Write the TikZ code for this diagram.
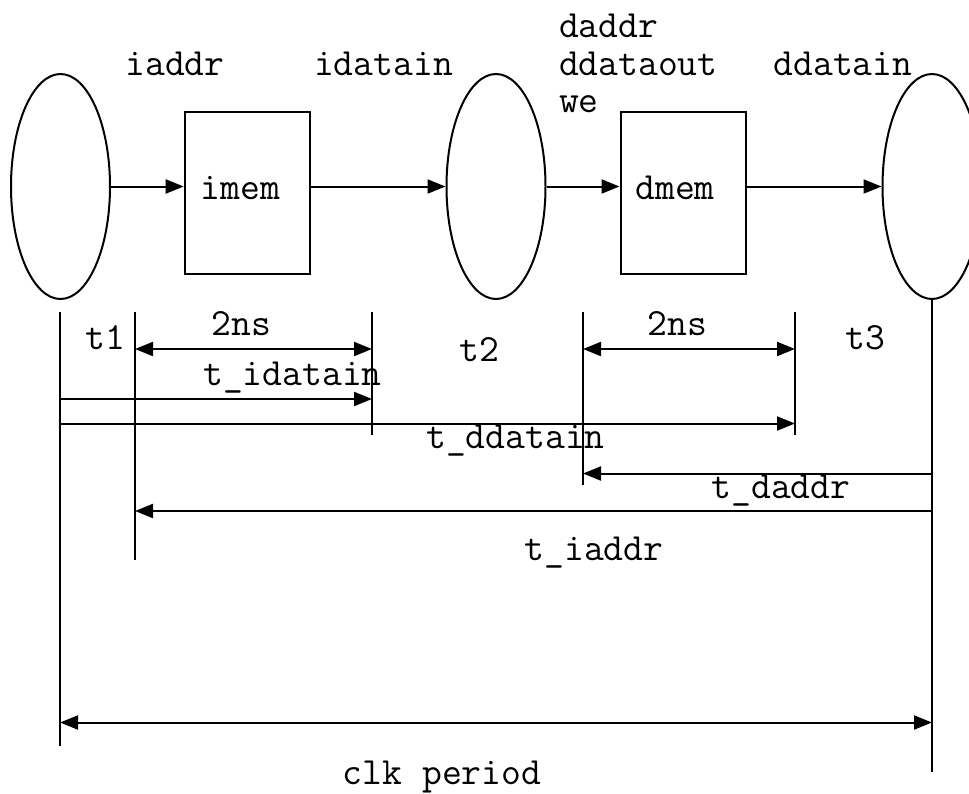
\documentclass[tikz,border=0pt]{standalone}
\usepackage{fontspec}
\setmainfont{Latin Modern Mono}
\usetikzlibrary{arrows.meta,shapes.geometric}
\begin{document}
\begin{tikzpicture}[x=1pt,y=-1pt,
  line width=2pt,
  every node/.style={font=\fontsize{38.5}{37.5}\selectfont, inner sep=0pt},
  reg/.style={draw, ellipse, minimum width=99pt, minimum height=225pt},
  mem/.style={draw, rectangle, minimum width=125pt, minimum height=162pt},
  lbl/.style={anchor=base},
  fwd/.style={-{Triangle[length=18pt,width=14pt]}},
  dbl/.style={{Triangle[length=18pt,width=14pt]}-{Triangle[length=18pt,width=14pt]}}
]
\useasboundingbox (0,0) rectangle (969,793);

% pipeline registers and memories
\node[reg] (r1) at (60.5,186.5) {};
\node[reg] (r2) at (496,186.5) {};
\node[reg] (r3) at (932,186.5) {};
\node[mem] (imem) at (247.2,193) {};
\node[mem] (dmem) at (683,193) {};
\node[lbl] (imemtxt) at (240.5,199) {imem};
\node[lbl] (dmemtxt) at (675,199) {dmem};

% data path
\draw[fwd] (r1.east) -- (r1.east -| imem.west);
\draw[fwd] (r1.east -| imem.east) -- (r2.west);
\draw[fwd] (r2.east) -- (r2.east -| dmem.west);
\draw[fwd] (r2.east -| dmem.east) -- (r3.west);

% signal names
\node[lbl] (iaddr) at (175,75) {iaddr};
\node[lbl] (idatain) at (383.5,75) {idatain};
\node[anchor=base west] (daddr) at (558,37) {daddr};
\node[anchor=base west] (ddataout) at (558,75) {ddataout};
\node[anchor=base west] (we) at (558,112) {we};
\node[lbl] (ddatain) at (843,75) {ddatain};

% timing reference lines
\coordinate (v0t) at (60,312);   \coordinate (v0b) at (60,746);
\coordinate (v1t) at (135,312);  \coordinate (v1b) at (135,560);
\coordinate (v2t) at (372,312);  \coordinate (v2b) at (372,435);
\coordinate (v3t) at (583,312);  \coordinate (v3b) at (583,485);
\coordinate (v4t) at (795,312);  \coordinate (v4b) at (795,435);
\coordinate (v5b) at (932,772);
\draw (v0t) -- (v0b);
\draw (v1t) -- (v1b);
\draw (v2t) -- (v2b);
\draw (v3t) -- (v3b);
\draw (v4t) -- (v4b);
\draw (r3.south) -- (v5b);

% arrow end points
\coordinate (a1l) at (135,349);  \coordinate (a1r) at (372,349);
\coordinate (a2l) at (583,349);  \coordinate (a2r) at (795,349);
\coordinate (b1l) at (60,399);   \coordinate (b1r) at (372,399);
\coordinate (b2l) at (60,423.5); \coordinate (b2r) at (795,423.5);
\coordinate (c1r) at (932,473.5);\coordinate (c1l) at (583,473.5);
\coordinate (c2r) at (932,511);  \coordinate (c2l) at (135,511);
\coordinate (dl) at (60,722.5);  \coordinate (dr) at (932,722.5);

\draw[dbl] (a1l) -- (a1r);
\draw[dbl] (a2l) -- (a2r);
\draw[fwd] (b1l) -- (b1r);
\draw[fwd] (b2l) -- (b2r);
\draw[fwd] (c1r) -- (c1l);
\draw[fwd] (c2r) -- (c2l);
\draw[dbl] (dl) -- (dr);

% timing labels
\node[lbl] (ns1) at (241.5,335) {2ns};
\node[lbl] (ns2) at (677.5,335) {2ns};
\node[lbl] (t1) at (105,349) {t1};
\node[lbl] (t2) at (479,361) {t2};
\node[lbl] (t3) at (865,349) {t3};
\node[lbl] (tidatain) at (292.5,385.5) {t\_idatain};
\node[lbl] (tddatain) at (515.5,448) {t\_ddatain};
\node[lbl] (tdaddr) at (781,498) {t\_daddr};
\node[lbl] (tiaddr) at (594,560) {t\_iaddr};
\node[lbl] (clk) at (442,784) {clk period};
\end{tikzpicture}
\end{document}
